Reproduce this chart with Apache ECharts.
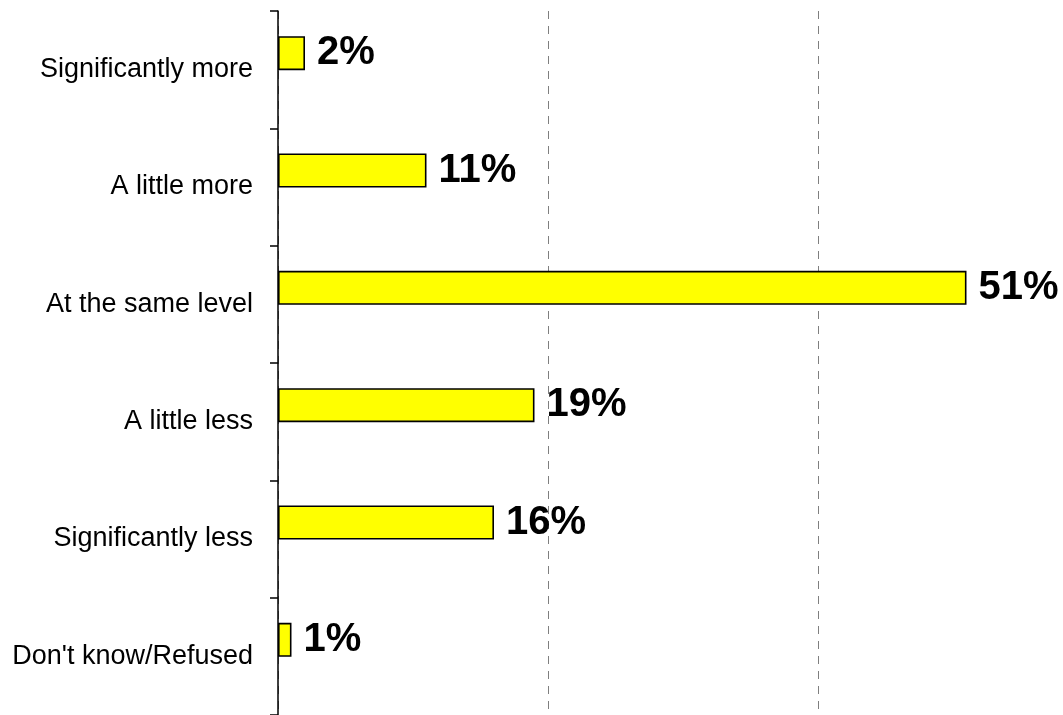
<!DOCTYPE html>
<html>
<head>
<meta charset="utf-8">
<script src="https://cdn.jsdelivr.net/npm/echarts@6/dist/echarts.min.js"></script>
<style>html,body{margin:0;padding:0;background:#fff;}#c{width:1063px;height:715px;}</style>
</head>
<body>
<div id="c"></div>
<script>
var categories = ["Significantly more", "A little more", "At the same level", "A little less", "Significantly less", "Don't know/Refused"];
var values = [2, 11, 51, 19, 16, 1];
var spacer = [null, null, null, null, null, null];

var FONT = "'Liberation Sans', Arial, sans-serif";
var chart = echarts.init(document.getElementById('c'), null, {renderer: 'canvas'});
chart.setOption({
  animation: false,
  grid: {left: 278, top: 11, width: 783, height: 706, containLabel: false},
  xAxis: {
    type: 'value', min: 0, max: 58, interval: 20,
    axisLine: {show: false}, axisTick: {show: false}, axisLabel: {show: false},
    splitLine: {show: true, showMaxLine: false, lineStyle: {color: '#7f7f7f', width: 1, type: [8, 7]}}
  },
  yAxis: {
    type: 'category', data: categories, inverse: true,
    axisLine: {show: true, lineStyle: {color: '#000', width: 1.5}},
    axisTick: {show: true, length: 8, lineStyle: {color: '#000', width: 1.5}},
    axisLabel: {color: '#000', fontSize: 27, fontFamily: FONT, margin: 25},
    splitLine: {show: false}
  },
  series: [
    {
      type: 'bar', data: values, barWidth: 34, barGap: '0%',
      itemStyle: {color: '#FFFF00', borderColor: '#000', borderWidth: 1.6},
      label: {show: true, position: 'right', distance: 12, formatter: '{c}%', color: '#000',
              fontSize: 40, fontWeight: 'bold', fontFamily: FONT},
      z: 3
    },
    {
      type: 'bar', data: spacer, barWidth: 33, barGap: '0%', silent: true,
      itemStyle: {color: 'transparent'}
    }
  ]
});
</script>
</body>
</html>
